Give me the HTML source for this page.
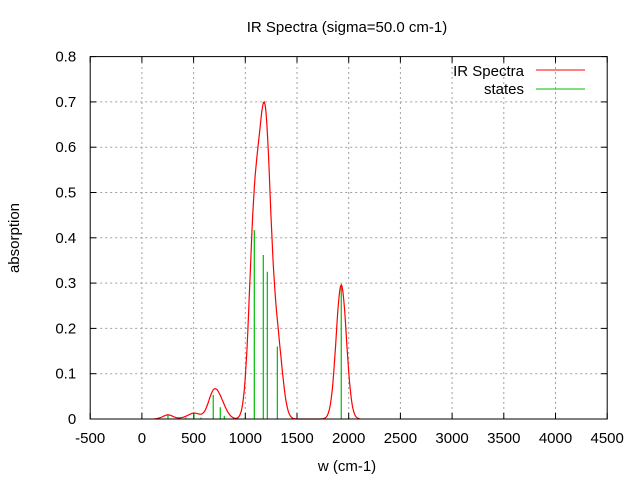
<!DOCTYPE html>
<html><head><meta charset="utf-8"><style>
body{margin:0;background:#fff;}
svg text{font-family:"Liberation Sans",sans-serif;font-size:15px;fill:#000;}
</style></head><body>
<svg id="chart" width="640" height="480">
<text x="347" y="32" text-anchor="middle">IR Spectra (sigma=50.0 cm-1)</text>
<text x="347" y="471" text-anchor="middle">w (cm-1)</text>
<text transform="translate(19,238) rotate(-90)" text-anchor="middle">absorption</text>
<g id="grid"></g><g id="ticks"></g><g id="series"></g>
<rect x="90.2" y="56.6" width="517" height="362.4" fill="none" stroke="#000" stroke-width="1"/>
<g>
<text x="524" y="76" text-anchor="end">IR Spectra</text>
<line x1="536" y1="70" x2="585" y2="70" stroke="#f00" stroke-width="1"/>
<text x="524" y="94" text-anchor="end">states</text>
<line x1="536" y1="89" x2="585" y2="89" stroke="#0b0" stroke-width="1"/>
</g>
</svg>
<script>
const stateFreqs=[252,424,504,572,690,758,797,1087,1174,1213,1310,1928];
const stateInts=[0.009,0.003,0.011,0.003,0.053,0.026,0.007,0.417,0.362,0.325,0.16,0.296];
const xTicks=[-500,0,500,1000,1500,2000,2500,3000,3500,4000,4500];
const yTicks=[0,0.1,0.2,0.3,0.4,0.5,0.6,0.7,0.8];
const sigma=50;
const X0=90.2,X1=607.2,Y0=419,Y1=56.6;
const sx=w=>X0+(w+500)/5000*(X1-X0);
const sy=v=>Y0-v/0.8*(Y0-Y1);
const NS="http://www.w3.org/2000/svg";
function mk(t,a,p){const e=document.createElementNS(NS,t);for(const k in a)e.setAttribute(k,a[k]);p.appendChild(e);return e;}
const grid=document.getElementById('grid'),ticks=document.getElementById('ticks'),ser=document.getElementById('series');
xTicks.forEach(t=>{const x=sx(t);
 if(t>-500&&t<4500){const g=mk('line',{x1:x,y1:Y0,x2:x,y2:Y1,stroke:'#a0a0a0','stroke-dasharray':'2,3'},grid);
 
 }
 mk('line',{x1:x,y1:Y0,x2:x,y2:Y0-6,stroke:'#000'},ticks);
 mk('line',{x1:x,y1:Y1,x2:x,y2:Y1+6,stroke:'#000'},ticks);
 const tx=mk('text',{x:x,y:Y0+24,'text-anchor':'middle'},ticks);tx.textContent=t;
 
 
});
yTicks.forEach(t=>{const y=sy(t);
 if(t>0&&t<0.8){const g=mk('line',{x1:X0,y1:y,x2:X1,y2:y,stroke:'#a0a0a0','stroke-dasharray':'2,3'},grid);
 
 }
 mk('line',{x1:X0,y1:y,x2:X0+6,y2:y,stroke:'#000'},ticks);
 mk('line',{x1:X1,y1:y,x2:X1-6,y2:y,stroke:'#000'},ticks);
 const tx=mk('text',{x:X0-14,y:y+5,'text-anchor':'end'},ticks);tx.textContent=(t===0?'0':t.toFixed(1));
 
 
});
stateFreqs.forEach((f,i)=>{const x=sx(f);
 const l=mk('line',{x1:x,y1:Y0,x2:x,y2:sy(stateInts[i]),stroke:'#0b0','stroke-width':1.2},ser);
 
 
});
let pts=[];
for(let w=120;w<=2110;w+=8){let v=0;stateFreqs.forEach((f,i)=>{v+=stateInts[i]*Math.exp(-((w-f)*(w-f))/(2*sigma*sigma));});
 pts.push(sx(w).toFixed(1)+','+sy(v).toFixed(1));}
const pl=mk('polyline',{points:pts.join(' '),fill:'none',stroke:'#f00','stroke-width':1.2},ser);


</script>
</body></html>
